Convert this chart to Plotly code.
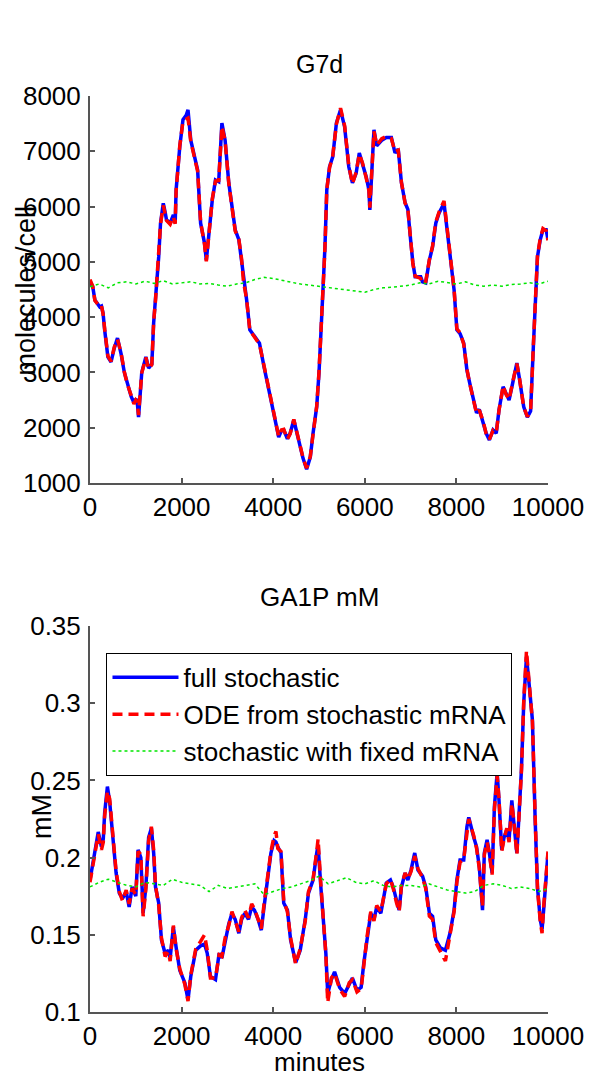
import plotly.graph_objects as go

### G7d traces (molecules/cell)
minutes_g7d = [0, 60, 107, 160, 214, 250, 285, 320, 390, 460, 530, 600, 640, 680, 750, 810, 900, 960, 1000, 1030,
               1060, 1130, 1220, 1280, 1350, 1390, 1430, 1500, 1540, 1600, 1640, 1670, 1750, 1820, 1860, 1880, 1960, 2030, 2100, 2140,
               2200, 2290, 2350, 2415, 2500, 2540, 2600, 2670, 2740, 2810, 2880, 2950, 3030, 3100, 3170, 3250, 3310, 3350, 3420, 3490,
               3590, 3700, 3800, 3910, 4020, 4120, 4180, 4230, 4310, 4370, 4450, 4560, 4650, 4730, 4810, 4870, 4950, 5000, 5060, 5090,
               5130, 5170, 5230, 5300, 5380, 5470, 5560, 5650, 5730, 5810, 5880, 5950, 6030, 6090, 6110, 6200, 6260, 6370, 6470, 6580,
               6660, 6730, 6800, 6880, 6940, 7000, 7050, 7100, 7220, 7260, 7330, 7410, 7480, 7550, 7620, 7730, 7800, 7860, 7950, 8010,
               8080, 8160, 8230, 8290, 8380, 8440, 8500, 8590, 8650, 8720, 8800, 8870, 8930, 9020, 9080, 9150, 9230, 9320, 9380, 9470,
               9550, 9620, 9680, 9720, 9770, 9830, 9890, 9960, 10000]
g7d_full = [4650, 4550, 4310, 4250, 4184, 4200, 4075, 3768, 3280, 3190, 3440, 3620, 3500, 3330, 3000, 2810, 2560, 2450, 2520, 2480,
            2190, 3000, 3280, 3080, 3150, 3900, 4310, 5090, 5700, 6060, 5900, 5760, 5700, 5850, 5700, 6300, 7080, 7570, 7650, 7750,
            7200, 6900, 6660, 5700, 5340, 5030, 5520, 6120, 6480, 6450, 7510, 7200, 6430, 5940, 5580, 5400, 5030, 4670, 4310, 3770,
            3650, 3530, 3100, 2680, 2190, 1830, 1950, 1960, 1800, 1900, 2140, 1720, 1450, 1250, 1470, 1900, 2380, 2990, 3900, 4550,
            5270, 6300, 6720, 6900, 7510, 7750, 7440, 6720, 6430, 6600, 6970, 6780, 6540, 6300, 5940, 7390, 7100, 7200, 7250, 7250,
            6970, 7040, 6430, 6070, 5950, 5400, 4980, 4730, 4730, 4640, 4620, 5030, 5270, 5700, 5880, 6060, 5580, 5090, 4490, 3770,
            3700, 3530, 3040, 2810, 2500, 2270, 2330, 2090, 1900, 1780, 1960, 1900, 2320, 2740, 2620, 2500, 2810, 3170, 2870, 2380,
            2190, 2300, 3460, 4370, 5090, 5400, 5580, 5580, 5400]
g7d_ode = [4680, 4560, 4300, 4240, 4190, 4210, 4060, 3790, 3300, 3200, 3460, 3600, 3480, 3350, 3010, 2800, 2580, 2430, 2500, 2470,
           2230, 2990, 3270, 3060, 3140, 3920, 4300, 5110, 5680, 6020, 5880, 5750, 5680, 5820, 5690, 6280, 7100, 7540, 7580, 7600,
           7180, 6880, 6640, 5720, 5320, 5010, 5500, 6140, 6460, 6470, 7450, 7190, 6420, 5960, 5560, 5410, 5050, 4650, 4320, 3760,
           3640, 3510, 3120, 2670, 2200, 1840, 1960, 1970, 1790, 1890, 2150, 1730, 1460, 1270, 1480, 1880, 2390, 3010, 3880, 4560,
           5250, 6310, 6700, 6920, 7490, 7780, 7460, 6740, 6410, 6620, 6950, 6790, 6520, 6290, 5980, 7360, 7110, 7230, 7270, 7230,
           6990, 7020, 6440, 6060, 5960, 5420, 4960, 4740, 4700, 4600, 4640, 5040, 5290, 5720, 5900, 6100, 5600, 5070, 4500, 3790,
           3720, 3510, 3060, 2800, 2510, 2260, 2320, 2100, 1890, 1790, 1950, 1910, 2310, 2760, 2610, 2510, 2830, 3160, 2880, 2370,
           2200, 2290, 3480, 4350, 5110, 5420, 5600, 5560, 5390]

minutes_fixed = [0, 200, 400, 600, 800, 1000, 1200, 1400, 1600, 1800, 2000, 2200, 2400, 2600, 2800, 3000, 3200, 3400, 3600, 3800,
                 4000, 4200, 4400, 4600, 4800, 5000, 5200, 5400, 5600, 5800, 6000, 6200, 6400, 6600, 6800, 7000, 7200, 7400, 7600, 7800,
                 8000, 8200, 8400, 8600, 8800, 9000, 9200, 9400, 9600, 9800, 10000]
g7d_fixed = [4550, 4600, 4530, 4620, 4640, 4600, 4650, 4610, 4660, 4600, 4620, 4640, 4600, 4610, 4580, 4560, 4600, 4620, 4680, 4720,
             4700, 4660, 4630, 4600, 4580, 4560, 4540, 4520, 4500, 4480, 4450, 4500, 4530, 4540, 4560, 4580, 4620, 4600, 4650, 4620,
             4600, 4640, 4580, 4560, 4580, 4560, 4590, 4600, 4620, 4600, 4650]

### GA1P traces (mM)
minutes_ga1p = [0, 70, 150, 180, 250, 290, 320, 380, 430, 490, 570, 640, 710, 790, 855, 920, 1000, 1050, 1110, 1160,
                1220, 1280, 1340, 1390, 1430, 1500, 1560, 1640, 1710, 1750, 1820, 1880, 1960, 2070, 2140, 2200, 2310, 2420, 2500, 2560,
                2630, 2740, 2820, 2880, 2950, 3030, 3100, 3170, 3250, 3310, 3380, 3460, 3530, 3590, 3670, 3740, 3800, 3890, 3950, 4020,
                4060, 4100, 4170, 4230, 4310, 4380, 4490, 4590, 4700, 4770, 4870, 4950, 4980, 5040, 5090, 5150, 5190, 5270, 5340, 5450,
                5560, 5660, 5730, 5830, 5920, 5980, 6050, 6130, 6200, 6260, 6350, 6410, 6470, 6560, 6620, 6690, 6750, 6800, 6880, 6940,
                7010, 7090, 7160, 7260, 7330, 7410, 7480, 7550, 7650, 7760, 7860, 7950, 8010, 8080, 8160, 8230, 8270, 8380, 8440, 8500,
                8570, 8610, 8670, 8720, 8780, 8830, 8890, 8930, 8990, 9040, 9100, 9150, 9210, 9250, 9320, 9360, 9420, 9470, 9530, 9570,
                9660, 9720, 9770, 9830, 9870, 9910, 9960, 10000]
ga1p_full = [0.1855, 0.1966, 0.2115, 0.2166, 0.207, 0.212, 0.229, 0.246, 0.236, 0.2134, 0.190, 0.177, 0.1735, 0.178, 0.168, 0.181, 0.175, 0.205, 0.200, 0.164,
             0.181, 0.213, 0.219, 0.203, 0.181, 0.1706, 0.1467, 0.138, 0.140, 0.135, 0.155, 0.142, 0.127, 0.119, 0.108, 0.123, 0.140, 0.143, 0.144, 0.138,
             0.123, 0.121, 0.138, 0.135, 0.1467, 0.157, 0.164, 0.160, 0.151, 0.160, 0.164, 0.160, 0.168, 0.166, 0.160, 0.153, 0.168, 0.190, 0.203, 0.211,
             0.210, 0.207, 0.203, 0.1706, 0.166, 0.1467, 0.132, 0.140, 0.160, 0.177, 0.1855, 0.203, 0.208, 0.181, 0.164, 0.138, 0.112, 0.121, 0.126, 0.116,
             0.112, 0.118, 0.122, 0.114, 0.116, 0.132, 0.1486, 0.164, 0.160, 0.168, 0.164, 0.1726, 0.1836, 0.1855, 0.181, 0.1726, 0.166, 0.181, 0.190, 0.1855,
             0.192, 0.203, 0.192, 0.188, 0.181, 0.164, 0.162, 0.1467, 0.1415, 0.140, 0.151, 0.166, 0.1855, 0.1985, 0.1985, 0.220, 0.226, 0.213, 0.207, 0.194,
             0.166, 0.203, 0.2115, 0.203, 0.190, 0.233, 0.255, 0.237, 0.205, 0.213, 0.218, 0.2115, 0.237, 0.224, 0.203, 0.224, 0.257, 0.300, 0.330, 0.318,
             0.289, 0.224, 0.181, 0.160, 0.1536, 0.168, 0.190, 0.203]
ga1p_ode = [0.1840, 0.1950, 0.2100, 0.2150, 0.2050, 0.2100, 0.2270, 0.2430, 0.2380, 0.2150, 0.1910, 0.1780, 0.1720, 0.1790, 0.1700, 0.1800, 0.1760, 0.2040, 0.2020, 0.1620,
            0.1800, 0.2110, 0.2200, 0.2050, 0.1820, 0.1690, 0.1480, 0.1360, 0.1390, 0.1330, 0.1560, 0.1410, 0.1280, 0.1180, 0.1070, 0.1240, 0.1410, 0.1460, 0.1500, 0.1400,
            0.1220, 0.1220, 0.1370, 0.1360, 0.1480, 0.1560, 0.1650, 0.1590, 0.1520, 0.1610, 0.1660, 0.1610, 0.1700, 0.1670, 0.1590, 0.1540, 0.1700, 0.1910, 0.2040, 0.2140,
            0.2170, 0.2060, 0.2040, 0.1720, 0.1650, 0.1480, 0.1310, 0.1410, 0.1590, 0.1780, 0.1860, 0.2040, 0.2120, 0.1830, 0.1620, 0.1370, 0.1060, 0.1220, 0.1250, 0.1150,
            0.1100, 0.1190, 0.1210, 0.1130, 0.1150, 0.1330, 0.1490, 0.1650, 0.1590, 0.1690, 0.1650, 0.1740, 0.1830, 0.1860, 0.1800, 0.1710, 0.1650, 0.1820, 0.1900, 0.1860,
            0.1910, 0.2010, 0.1930, 0.1870, 0.1800, 0.1620, 0.1600, 0.1450, 0.1390, 0.1330, 0.1500, 0.1650, 0.1840, 0.1970, 0.1990, 0.2180, 0.2250, 0.2140, 0.2060, 0.1930,
            0.1680, 0.2020, 0.2100, 0.2020, 0.1890, 0.2310, 0.2530, 0.2380, 0.2040, 0.2120, 0.2190, 0.2100, 0.2350, 0.2250, 0.2020, 0.2230, 0.2560, 0.3010, 0.3340, 0.3200,
            0.2880, 0.2260, 0.1800, 0.1590, 0.1510, 0.1700, 0.1920, 0.2040]
ga1p_fixed = [0.181, 0.184, 0.186, 0.184, 0.182, 0.181, 0.184, 0.183, 0.182, 0.186, 0.184, 0.183, 0.182, 0.178, 0.182, 0.180, 0.181, 0.182, 0.183, 0.176,
              0.178, 0.180, 0.181, 0.183, 0.185, 0.188, 0.183, 0.185, 0.187, 0.184, 0.183, 0.185, 0.182, 0.181, 0.182, 0.182, 0.181, 0.183, 0.181, 0.179,
              0.178, 0.177, 0.178, 0.182, 0.183, 0.182, 0.180, 0.181, 0.180, 0.178, 0.180]

x_ticks = [0, 2000, 4000, 6000, 8000, 10000]
x_ticktext = ["0", "2000", "4000", "6000", "8000", "10000"]
legend_names = ["full stochastic", "ODE from stochastic mRNA", "stochastic with fixed mRNA"]

FONT = "Liberation Sans, Arial, sans-serif"
BLUE, RED, GREEN = "#0000ff", "#ff0000", "#00e600"
LW = 3.5

fig = go.Figure()

# top panel
fig.add_trace(go.Scatter(x=minutes_g7d, y=g7d_full, mode="lines", line=dict(color=BLUE, width=LW),
                         showlegend=False, xaxis="x", yaxis="y"))
fig.add_trace(go.Scatter(x=minutes_g7d, y=g7d_ode, mode="lines", line=dict(color=RED, width=LW, dash="10px,6px"),
                         showlegend=False, xaxis="x", yaxis="y"))
fig.add_trace(go.Scatter(x=minutes_fixed, y=g7d_fixed, mode="lines", line=dict(color=GREEN, width=1.5, dash="3px,3px"),
                         showlegend=False, xaxis="x", yaxis="y"))

# bottom panel
fig.add_trace(go.Scatter(x=minutes_ga1p, y=ga1p_full, mode="lines", name=legend_names[0],
                         line=dict(color=BLUE, width=LW), xaxis="x2", yaxis="y2"))
fig.add_trace(go.Scatter(x=minutes_ga1p, y=ga1p_ode, mode="lines", name=legend_names[1],
                         line=dict(color=RED, width=LW, dash="10px,6px"), xaxis="x2", yaxis="y2"))
fig.add_trace(go.Scatter(x=minutes_fixed, y=ga1p_fixed, mode="lines", name=legend_names[2],
                         line=dict(color=GREEN, width=1.5, dash="3px,3px"), xaxis="x2", yaxis="y2"))

axis_style = dict(showline=True, linecolor="#555555", linewidth=2, ticks="inside", ticklen=5, tickwidth=1.5,
                  tickcolor="#555555", showgrid=False, zeroline=False, mirror=False,
                  tickfont=dict(family=FONT, size=26, color="black"))

# the page body adds an 8px offset, so the figure is 8px smaller on each side
fig.update_layout(
    width=588, height=1069,
    margin=dict(l=82, r=38, t=88, b=65),
    paper_bgcolor="white", plot_bgcolor="white",
    font=dict(family=FONT, size=26, color="black"),
    xaxis=dict(domain=[0, 1], range=[0, 10000], tickvals=x_ticks, ticktext=x_ticktext, anchor="y",
               ticklabelstandoff=0, **axis_style),
    yaxis=dict(domain=[0.5775, 1], range=[1000, 8000], dtick=1000, anchor="x", ticklabelstandoff=2, **axis_style),
    xaxis2=dict(domain=[0, 1], range=[0, 10000], tickvals=x_ticks, ticktext=x_ticktext, anchor="y2",
                ticklabelstandoff=0, **axis_style),
    yaxis2=dict(domain=[0, 0.4214], range=[0.1, 0.35], dtick=0.05, anchor="x2", ticklabelstandoff=2, **axis_style),
    legend=dict(x=0.036, y=0.392, xanchor="left", yanchor="top", bgcolor="white", itemwidth=66,
                bordercolor="black", borderwidth=1, font=dict(family=FONT, size=26, color="black"),
                tracegroupgap=0),
    annotations=[
        dict(text="G7d", x=0.5, y=1.0349, xref="paper", yref="paper", showarrow=False,
             xanchor="center", yanchor="middle", font=dict(family=FONT, size=25)),
        dict(text="GA1P mM", x=0.5, y=0.453, xref="paper", yref="paper", showarrow=False,
             xanchor="center", yanchor="middle", font=dict(family=FONT, size=26)),
        dict(text="molecules/cell", x=-0.1389, y=0.788, xref="paper", yref="paper", showarrow=False,
             xanchor="center", yanchor="middle", textangle=-90, font=dict(family=FONT, size=27)),
        dict(text="mM", x=-0.1047, y=0.2129, xref="paper", yref="paper", showarrow=False,
             xanchor="center", yanchor="middle", textangle=-90, font=dict(family=FONT, size=27)),
        dict(text="minutes", x=0.5, y=-0.055, xref="paper", yref="paper", showarrow=False,
             xanchor="center", yanchor="middle", font=dict(family=FONT, size=26)),
    ],
)

fig.write_html("out.html")
